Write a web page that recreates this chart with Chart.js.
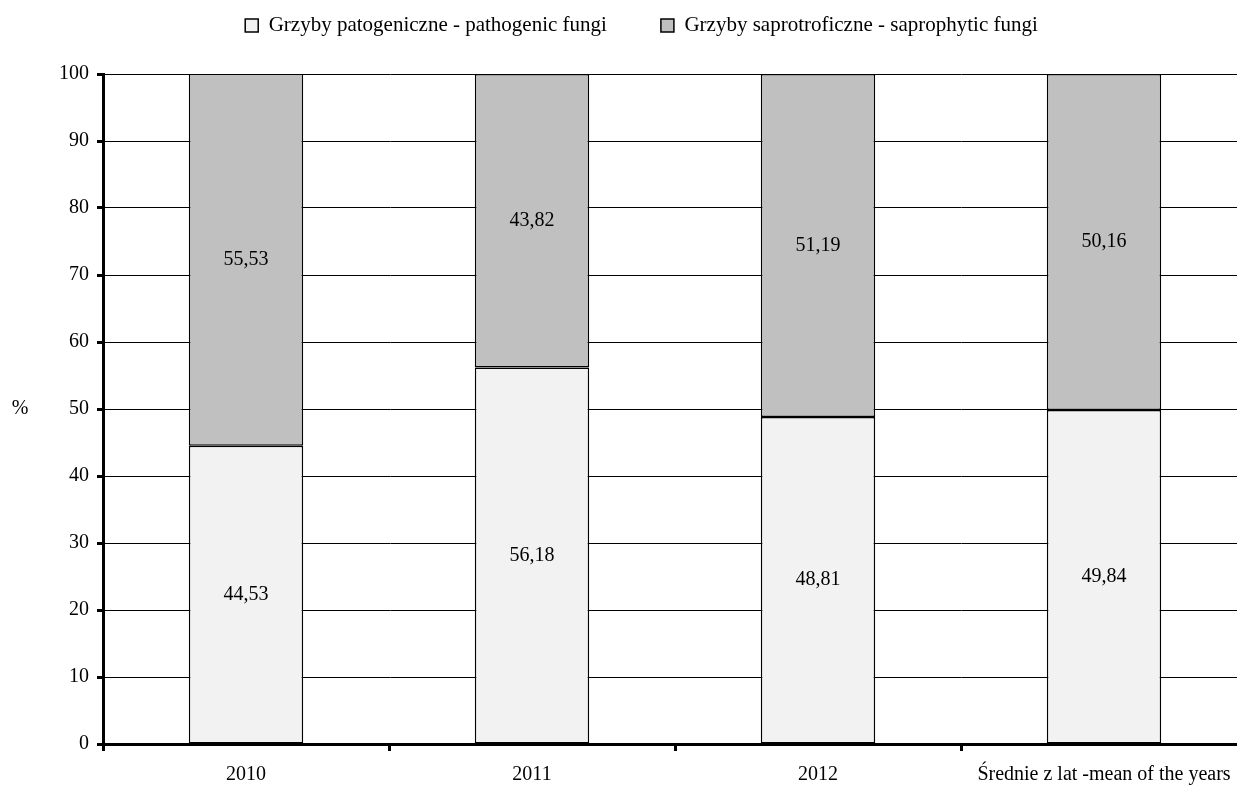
<!DOCTYPE html>
<html>
<head>
<meta charset="utf-8">
<script src="https://cdn.jsdelivr.net/npm/chart.js@4"></script>
<style>
  html, body { margin: 0; padding: 0; background: #fff; overflow: hidden; }
  #wrap { width: 1237px; height: 785px; overflow: hidden; }
</style>
</head>
<body>
<div id="wrap"><canvas id="c" width="1250" height="785"></canvas></div>
<script>
const categories = ['2010', '2011', '2012', 'Średnie z lat -mean of the years'];
const pathogenic = [44.53, 56.18, 48.81, 49.84];
const saprophytic = [55.53, 43.82, 51.19, 50.16];
const seriesNames = ['Grzyby patogeniczne - pathogenic fungi', 'Grzyby saprotroficzne - saprophytic fungi'];
const yTitle = '%';

const FONT = "'Liberation Serif', 'Times New Roman', serif";
Chart.defaults.font.family = FONT;
Chart.defaults.font.size = 20;
Chart.defaults.color = '#000';

const LEGEND_GAP = 54;

function fmt(v) { return v.toFixed(2).replace('.', ','); }

// etykiety wartości w segmentach, tytuł osi Y, pozycja legendy
const labelsPlugin = {
  id: 'segLabels',
  afterInit(chart) {
    const fit = chart.legend.fit;
    chart.legend.fit = function () { fit.call(this); this.height = 74; };
  },
  afterLayout(chart) {
    const lg = chart.legend;
    lg.top = 15 - LEGEND_GAP;
    lg.left += 18;
    lg.right += 18;
  },
  afterDatasetsDraw(chart) {
    const ctx = chart.ctx;
    ctx.save();
    ctx.font = '20px ' + FONT;
    ctx.fillStyle = '#000';
    ctx.textAlign = 'center';
    ctx.textBaseline = 'middle';
    chart.data.datasets.forEach((ds, i) => {
      chart.getDatasetMeta(i).data.forEach((bar, j) => {
        ctx.fillText(fmt(ds.data[j]), bar.x, (bar.y + bar.base) / 2);
      });
    });
    const a = chart.chartArea;
    ctx.fillText(yTitle, a.left - 83, (a.top + a.bottom) / 2);
    ctx.restore();
  }
};

new Chart(document.getElementById('c'), {
  type: 'bar',
  data: {
    labels: categories,
    datasets: [
      { label: seriesNames[0], data: pathogenic, backgroundColor: '#f2f2f2', borderColor: '#000', borderWidth: 1.5, borderSkipped: false },
      { label: seriesNames[1], data: saprophytic, backgroundColor: '#c0c0c0', borderColor: '#000', borderWidth: 1.5, borderSkipped: false }
    ]
  },
  options: {
    responsive: false,
    animation: false,
    layout: { padding: { left: 0, right: 3, top: 0, bottom: 0 } },
    datasets: { bar: { barPercentage: 0.4, categoryPercentage: 1.0 } },
    plugins: {
      tooltip: { enabled: false },
      legend: {
        position: 'top',
        labels: { boxWidth: 13, boxHeight: 13, padding: LEGEND_GAP, color: '#000', font: { size: 21 } }
      }
    },
    scales: {
      x: {
        stacked: true,
        afterFit(scale) { scale.height = 41; },
        grid: { offset: true, drawOnChartArea: false, color: '#000', tickLength: 7, tickWidth: 3 },
        border: { display: true, color: '#000', width: 3 },
        ticks: { padding: 12, maxRotation: 0, autoSkip: false, color: '#000' }
      },
      y: {
        stacked: true,
        min: 0,
        max: 100,
        afterFit(scale) { scale.width = 103; },
        grid: { color: '#000', lineWidth: 1, tickLength: 6, tickWidth: 3 },
        border: { display: true, color: '#000', width: 3 },
        ticks: { stepSize: 10, padding: 8, color: '#000' }
      }
    }
  },
  plugins: [labelsPlugin]
});
</script>
</body>
</html>
